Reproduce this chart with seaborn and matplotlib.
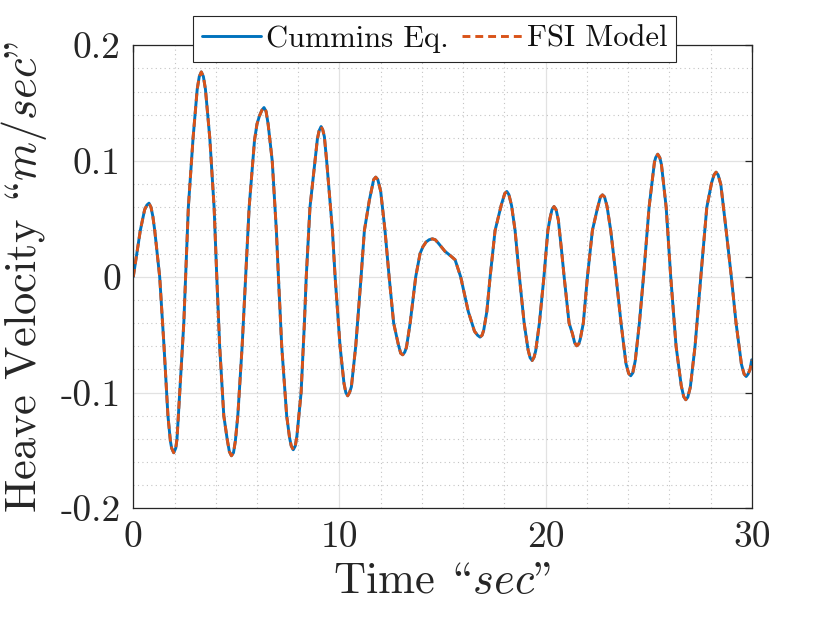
import numpy as np
import pandas as pd
import matplotlib
matplotlib.use('Agg')
import matplotlib.pyplot as plt
from matplotlib.ticker import MultipleLocator, FuncFormatter
import seaborn as sns

# valores (tiempo en s, velocidad en m/s)
time_s = [0.00, 0.34, 0.55, 0.66, 0.76, 0.86, 0.95, 1.04, 1.28, 1.49,
          1.68, 1.80, 1.86, 1.96, 2.06, 2.12, 2.25, 2.45, 2.54, 2.67,
          2.90, 3.10, 3.20, 3.30, 3.40, 3.50, 3.71, 3.92, 4.05, 4.19,
          4.39, 4.56, 4.66, 4.76, 4.86, 4.95, 5.07, 5.28, 5.45, 5.62,
          5.88, 6.00, 6.12, 6.24, 6.34, 6.44, 6.54, 6.74, 6.94, 7.04, 7.20,
          7.44, 7.58, 7.66, 7.76, 7.86, 7.94, 8.14, 8.30, 8.39, 8.57,
          8.80, 8.93, 9.01, 9.11, 9.19, 9.27, 9.38, 9.66, 9.79, 10.03,
          10.22, 10.31, 10.40, 10.49, 10.58, 10.79, 11.05, 11.21, 11.45, 11.66,
          11.76, 11.86, 12.00, 12.21, 12.41, 12.63, 12.85, 12.97, 13.07, 13.17,
          13.25, 13.43, 13.70, 13.91, 14.05, 14.20, 14.35, 14.51, 14.65, 14.80,
          15.12, 15.40, 15.61, 15.88, 16.25, 16.55, 16.70, 16.82, 16.92, 17.00,
          17.15, 17.31, 17.55, 17.85, 18.02, 18.12, 18.22, 18.35, 18.52, 18.73,
          18.96, 19.15, 19.25, 19.35, 19.44, 19.52, 19.70, 19.92, 20.11, 20.22,
          20.31, 20.41, 20.51, 20.62, 20.79, 20.90, 21.14, 21.30, 21.41, 21.51,
          21.61, 21.68, 21.83, 22.03, 22.27, 22.50, 22.66, 22.76, 22.86, 22.98,
          23.16, 23.42, 23.66, 23.90, 24.03, 24.13, 24.23, 24.35, 24.55, 24.75,
          25.02, 25.28, 25.34, 25.44, 25.54, 25.62, 25.85, 26.07, 26.33, 26.58,
          26.70, 26.80, 26.90, 27.02, 27.25, 27.53, 27.82, 28.05, 28.17, 28.27,
          28.37, 28.50, 28.76, 29.01, 29.24, 29.50, 29.63, 29.73, 29.83, 29.92,
          30.00]

cummins_vel = [0.000, 0.040, 0.058, 0.062, 0.0636, 0.060, 0.052, 0.040, 0.000, -0.060,
               -0.120, -0.142, -0.148, -0.152, -0.148, -0.140, -0.100, -0.040, 0.000, 0.060,
               0.120, 0.162, 0.173, 0.177, 0.173, 0.162, 0.120, 0.060, 0.000, -0.060,
               -0.120, -0.141, -0.151, -0.1546, -0.152, -0.142, -0.120, -0.060, 0.000, 0.060,
               0.118, 0.132, 0.139, 0.144, 0.1462, 0.143, 0.132, 0.100, 0.040, 0.000, -0.060,
               -0.120, -0.139, -0.146, -0.1494, -0.146, -0.137, -0.100, -0.040, 0.000, 0.060,
               0.098, 0.119, 0.126, 0.1298, 0.127, 0.121, 0.100, 0.040, 0.000, -0.060,
               -0.092, -0.100, -0.1028, -0.100, -0.095, -0.060, 0.000, 0.040, 0.066, 0.084,
               0.0861, 0.084, 0.074, 0.040, 0.000, -0.040, -0.058, -0.066, -0.0674, -0.065,
               -0.061, -0.040, 0.000, 0.020, 0.026, 0.030, 0.032, 0.0328, 0.032, 0.029,
               0.022, 0.018, 0.0147, 0.000, -0.030, -0.047, -0.0505, -0.0521, -0.0505, -0.046,
               -0.030, 0.000, 0.040, 0.062, 0.072, 0.0737, 0.071, 0.0615, 0.040, 0.000,
               -0.040, -0.063, -0.070, -0.0723, -0.0695, -0.064, -0.040, 0.000, 0.040, 0.051,
               0.058, 0.0607, 0.058, 0.049, 0.020, 0.000, -0.040, -0.049, -0.057, -0.0596,
               -0.058, -0.054, -0.040, 0.000, 0.040, 0.058, 0.069, 0.0708, 0.069, 0.061,
               0.040, 0.000, -0.040, -0.075, -0.0835, -0.0855, -0.083, -0.0725, -0.040, 0.000,
               0.060, 0.099, 0.103, 0.1059, 0.103, 0.097, 0.060, 0.000, -0.060, -0.094,
               -0.1035, -0.1062, -0.104, -0.0955, -0.060, 0.000, 0.060, 0.081, 0.088, 0.0904,
               0.088, 0.0798, 0.040, 0.000, -0.040, -0.0755, -0.084, -0.0861, -0.0838, -0.080,
               -0.0717]

# el modelo FSI se superpone a la ecuacion de Cummins en toda la grafica
fsi_vel = list(cummins_vel)

df = pd.DataFrame({'t': time_s, 'cummins': cummins_vel, 'fsi': fsi_vel})

sns.set_style('white')
plt.rcParams['font.family'] = ['cmr10', 'DejaVu Serif']
plt.rcParams['mathtext.fontset'] = 'cm'
plt.rcParams['axes.unicode_minus'] = False
plt.rcParams['axes.formatter.use_mathtext'] = False

fig = plt.figure(figsize=(8.3, 6.23), dpi=100)
ax = fig.add_axes([0.1606, 0.1841, 0.7451, 0.7432])

sns.lineplot(data=df, x='t', y='cummins', ax=ax, color='#0072BD', lw=2.1,
             sort=False, estimator=None, label='Cummins Eq.')
sns.lineplot(data=df, x='t', y='fsi', ax=ax, color='#D95319', lw=2.1,
             sort=False, estimator=None, label='FSI Model')
ax.lines[-1].set_dashes((2.7, 1.7))

ax.set_xlim(0, 30)
ax.set_ylim(-0.2, 0.2)
ax.xaxis.set_major_locator(MultipleLocator(10))
ax.xaxis.set_minor_locator(MultipleLocator(2))
ax.yaxis.set_major_locator(MultipleLocator(0.1))
ax.yaxis.set_minor_locator(MultipleLocator(0.02))
fmt = FuncFormatter(lambda v, _: f'{v:g}' if abs(v) > 1e-9 else '0')
ax.xaxis.set_major_formatter(fmt)
ax.yaxis.set_major_formatter(fmt)

ax.grid(which='major', color='#e2e2e2', lw=0.9, ls='-')
ax.grid(which='minor', color='#c4c4c4', lw=0.8, ls=(0, (1, 3)))
ax.set_axisbelow(True)

ax.tick_params(which='major', direction='in', length=5, width=0.9, color='#262626',
               top=True, right=True, labelsize=27, pad=9, labelcolor='#262626')
ax.tick_params(which='minor', length=0)
for s in ax.spines.values():
    s.set_color('#262626')
    s.set_linewidth(0.9)

# en cmr10 (codificacion TeX) '\' es la comilla de apertura y '"' la de cierre
ax.set_xlabel('Time \\ $\\!\\!sec$"', fontsize=32, color='#262626', labelpad=6)
ax.set_ylabel('Heave Velocity \\ $\\!\\!m/sec$"', fontsize=32, color='#262626', labelpad=8)

leg = ax.legend(loc='center', bbox_to_anchor=(0.487, 1.014), ncol=2, fontsize=22,
                frameon=True, fancybox=False, framealpha=1, edgecolor='#262626',
                handlelength=1.95, handletextpad=0.15, columnspacing=0.45,
                borderpad=0.3, borderaxespad=0)
leg.get_frame().set_linewidth(0.8)
for t in leg.get_texts():
    t.set_color('#111111')

fig.savefig('out.png', dpi=100)
